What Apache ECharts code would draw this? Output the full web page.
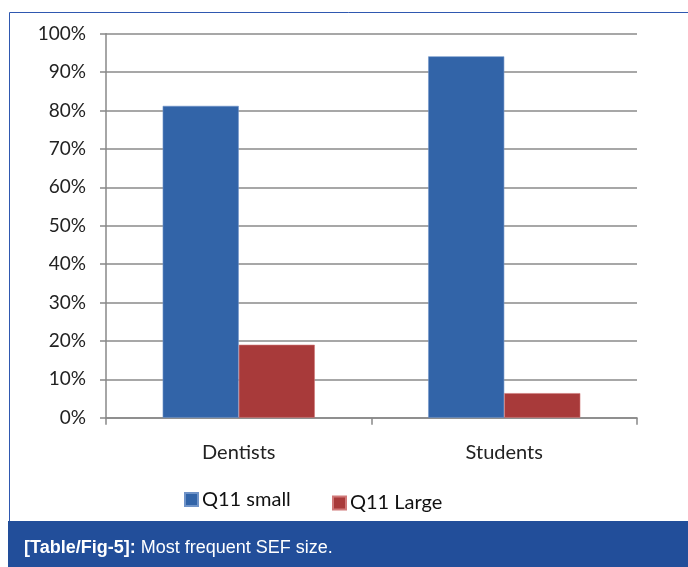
<!DOCTYPE html>
<html><head><meta charset="utf-8">
<script src="https://cdn.jsdelivr.net/npm/echarts@6/dist/echarts.min.js"></script>
<style>html,body{margin:0;padding:0;background:#fff}#c{width:688px;height:567px}</style>
</head><body><div id="c"></div>
<script>
const categories = ['Dentists', 'Students'];
const smallValues = [81.2, 94.1];
const largeValues = [19.0, 6.4];
const seriesNames = ['Q11 small', 'Q11 Large'];
const caption = ['[Table/Fig-5]:', ' Most frequent SEF size.'];

const chart = echarts.init(document.getElementById('c'));
const labelFont = 'Lato, "Open Sans", sans-serif';
chart.setOption({
  animation: false,
  backgroundColor: '#fff',
  graphic: [
    { type: 'line', shape: { x1: 9.5, y1: 12.5, x2: 688, y2: 12.5 }, style: { stroke: '#2f58b0', lineWidth: 1 } },
    { type: 'line', shape: { x1: 9.5, y1: 12.5, x2: 9.5, y2: 521 }, style: { stroke: '#2f58b0', lineWidth: 1 } },
    { type: 'rect', shape: { x: 8, y: 521, width: 680, height: 46 }, style: { fill: '#224e9a' } },
    { type: 'text', left: 24, top: 539, style: {
        text: '{b|' + caption[0] + '}{r|' + caption[1] + '}',
        rich: {
          b: { fill: '#fff', fontWeight: 'bold', fontSize: 18, fontFamily: '"Liberation Sans", Arial, sans-serif' },
          r: { fill: '#fff', fontSize: 18, fontFamily: '"Liberation Sans", Arial, sans-serif' }
        } } }
  ],
  grid: { left: 106, right: 51, top: 33.7, bottom: 149.3, containLabel: false },
  legend: [
    { data: [seriesNames[0]], left: 184, top: 489.5, padding: 0, itemWidth: 13, itemHeight: 13, icon: 'rect', itemGap: 4,
      textStyle: { fontSize: 20, color: '#111', fontFamily: labelFont, padding: [0, 0, 0, -1] } },
    { data: [seriesNames[1]], left: 332, top: 493, padding: 0, itemWidth: 13, itemHeight: 13, icon: 'rect', itemGap: 4,
      textStyle: { fontSize: 20, color: '#111', fontFamily: labelFont, padding: [0, 0, 0, -1] } }
  ],
  xAxis: {
    type: 'category', data: categories,
    axisLine: { lineStyle: { color: '#888', width: 1.5 } },
    axisTick: { show: true, length: 7, lineStyle: { color: '#888', width: 1.5 } },
    axisLabel: { fontSize: 20, color: '#222', margin: 25, fontFamily: labelFont }
  },
  yAxis: {
    type: 'value', min: 0, max: 100, interval: 10,
    axisLine: { show: true, lineStyle: { color: '#888', width: 1.5 } },
    axisTick: { show: true, length: 6, lineStyle: { color: '#888', width: 1.5 } },
    splitLine: { lineStyle: { color: '#8a8a8a', width: 1.5 } },
    axisLabel: { formatter: '{value}%', fontSize: 19, color: '#222', margin: 20, fontFamily: labelFont }
  },
  series: [
    { name: seriesNames[0], type: 'bar', data: smallValues, barGap: '0%', barCategoryGap: '42.7%',
      itemStyle: { color: '#3264a8', borderColor: '#6f93c8', borderWidth: 0.6 } },
    { name: seriesNames[1], type: 'bar', data: largeValues, barGap: '0%', barCategoryGap: '42.7%',
      itemStyle: { color: '#a83a3a', borderColor: '#d07878', borderWidth: 0.6 } }
  ]
});
</script></body></html>
